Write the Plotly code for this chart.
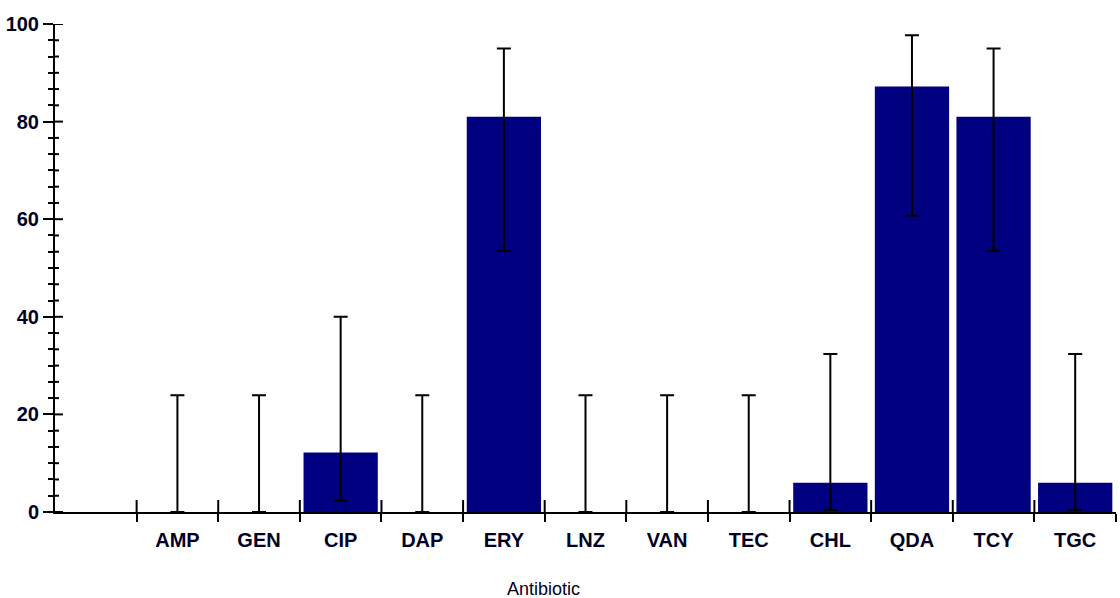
import plotly.graph_objects as go

# Resistance (%) per antibiotic with 95% confidence limits
antibiotics = ["AMP", "GEN", "CIP", "DAP", "ERY", "LNZ", "VAN", "TEC", "CHL", "QDA", "TCY", "TGC"]
resistance = [0, 0, 12.2, 0, 81.0, 0, 0, 0, 6.0, 87.2, 81.0, 6.0]
ci_upper = [23.9, 23.9, 40.0, 23.9, 95.0, 23.9, 23.9, 23.9, 32.4, 97.7, 95.0, 32.4]
ci_lower = [0, 0, 2.3, 0, 53.5, 0, 0, 0, 0.4, 60.7, 53.5, 0.4]

err_plus = [u - v for u, v in zip(ci_upper, resistance)]
err_minus = [v - l for v, l in zip(resistance, ci_lower)]

text_color = "#000022"
font_family = "Liberation Sans, Arial, sans-serif"
y_max = 100
y_major = 20
y_minor = y_major / 6

fig = go.Figure()
fig.add_trace(go.Bar(
    x=antibiotics,
    y=resistance,
    marker=dict(color="#000080", line=dict(width=0)),
    error_y=dict(
        type="data",
        symmetric=False,
        array=err_plus,
        arrayminus=err_minus,
        color="#000000",
        thickness=2,
        width=7,
    ),
    showlegend=False,
))

# Tick marks that also reach inside the axes (ticks cross the axis lines)
shapes = []
for i in range(len(antibiotics)):
    shapes.append(dict(
        type="line", xref="x", yref="y", ysizemode="pixel", yanchor=0,
        x0=i - 0.5, x1=i - 0.5, y0=0, y1=12,
        line=dict(color="black", width=2),
    ))
n_minor = int(round(y_max / y_minor))
for k in range(n_minor + 1):
    v = k * y_minor
    is_major = k % 6 == 0
    shapes.append(dict(
        type="line", xref="paper", yref="y", xsizemode="pixel", xanchor=0,
        x0=0, x1=8 if is_major else 4, y0=v, y1=v,
        line=dict(color="black", width=2),
    ))

fig.update_layout(
    width=1120,
    height=598,
    margin=dict(l=55, r=4, t=24, b=86),
    paper_bgcolor="white",
    plot_bgcolor="white",
    bargap=0.09,
    font=dict(family=font_family, color=text_color),
    shapes=shapes,
    xaxis=dict(
        type="category",
        categoryorder="array",
        categoryarray=antibiotics,
        range=[-1.5, len(antibiotics) - 0.5],
        tickson="boundaries",
        ticks="outside",
        ticklen=8,
        tickwidth=2,
        tickcolor="black",
        showline=True,
        linecolor="black",
        linewidth=2,
        showgrid=False,
        zeroline=False,
        tickfont=dict(size=20, color=text_color, weight="bold"),
        ticklabelstandoff=9,
    ),
    yaxis=dict(
        range=[0, y_max],
        tickmode="linear",
        tick0=0,
        dtick=y_major,
        ticks="outside",
        ticklen=10,
        tickwidth=2,
        tickcolor="black",
        minor=dict(dtick=y_minor, ticks="outside", ticklen=5, tickwidth=2, tickcolor="black"),
        showline=True,
        linecolor="black",
        linewidth=2,
        showgrid=False,
        zeroline=False,
        tickfont=dict(size=20, color=text_color, weight="bold"),
        ticklabelstandoff=0,
    ),
    annotations=[dict(
        text="Antibiotic",
        xref="paper", yref="paper",
        x=(543 - 55) / 1061, y=-0.157,
        xanchor="center", yanchor="middle",
        showarrow=False,
        font=dict(size=18, color=text_color),
    )],
)

fig.write_html("out.html")
